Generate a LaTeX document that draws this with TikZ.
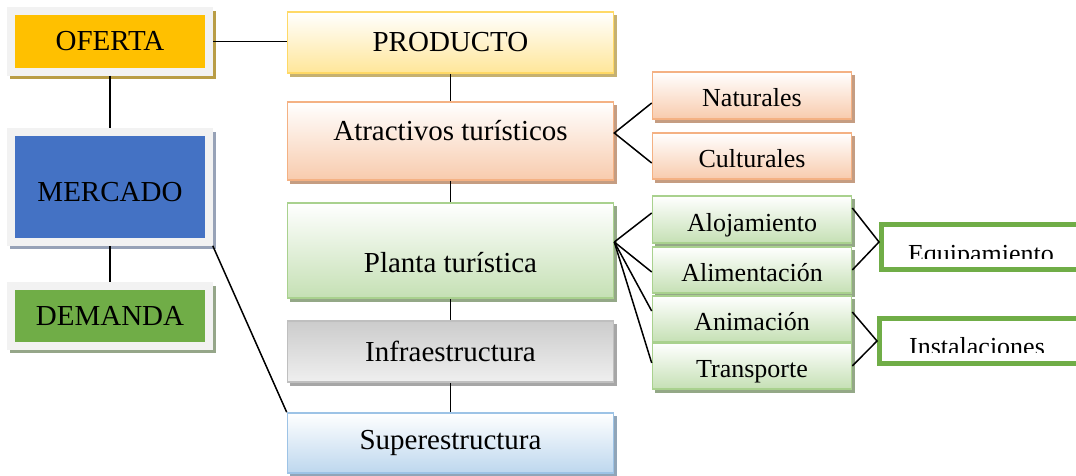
\documentclass[tikz,border=0pt]{standalone}
\usepackage{fontspec}
\setmainfont{Liberation Serif}
\usepackage{tikz}
\usetikzlibrary{shadows}
\definecolor{frameC}{HTML}{F2F2F2}
\definecolor{ofeC}{HTML}{FFC000}
\definecolor{merC}{HTML}{4472C4}
\definecolor{demC}{HTML}{70AD47}
\definecolor{prodB}{HTML}{FFD966}
\definecolor{prodF}{HTML}{FFE699}
\definecolor{atrB}{HTML}{F4B183}
\definecolor{atrF}{HTML}{F8CBAD}
\definecolor{plaB}{HTML}{A9D18E}
\definecolor{plaF}{HTML}{C5E0B4}
\definecolor{infB}{HTML}{BFBFBF}
\definecolor{supB}{HTML}{9DC3E6}
\definecolor{supF}{HTML}{BDD7EE}
\newcommand{\liftby}[2]{\raisebox{#1}[\height][\depth]{#2}}

\begin{document}
\begin{tikzpicture}[x=1pt,y=-1pt,line width=1.5pt,
  shad/.style={copy shadow={shadow xshift=3pt,shadow yshift=-3.5pt,fill=#1,draw=#1}},
  framebox/.style={draw=frameC,line width=7.5pt,minimum width=198pt,inner sep=0pt,
    font=\fontsize{29}{32}\selectfont},
  mainbox/.style={line width=1.6pt,minimum width=326pt,inner sep=0pt,
    font=\fontsize{29}{32}\selectfont},
  subbox/.style={line width=1.6pt,minimum width=199pt,inner sep=0pt,
    text height=23pt,text depth=0pt,font=\fontsize{26}{29}\selectfont},
  outbox/.style={draw=demC,fill=white,line width=5pt,inner sep=0pt,minimum height=45pt},
  prodsty/.style={draw=prodB,top color=white,bottom color=prodF,shad=prodB!55!gray},
  atrsty/.style={draw=atrB,top color=white,bottom color=atrF,shad=atrB!60!gray},
  plasty/.style={draw=plaB,top color=white,bottom color=plaF,shad=plaB!50!gray}]

  \useasboundingbox (0,0) rectangle (1076,476);

  % left column
  \node[framebox,fill=ofeC,minimum height=61pt,shad=ofeC!45!gray] at (110,41.5) (ofe) {OFERTA};
  \node[framebox,fill=merC,minimum height=110pt,shad=merC!35!gray!70!white] at (110,187) (mer) {\liftby{-5pt}{MERCADO}};
  \node[framebox,fill=demC,minimum height=60pt,shad=demC!35!gray!80!white] at (110,316) (dem) {DEMANDA};

  % main column
  \node[mainbox,prodsty,minimum height=61pt] at (450.5,42.5) (prod) {PRODUCTO};
  \node[mainbox,atrsty,minimum height=78pt] at (450.5,141) (atr) {\liftby{10pt}{Atractivos turísticos}};
  \node[mainbox,plasty,minimum height=95pt] at (450.5,250.5) (pla) {\liftby{-12pt}{Planta turística}};
  \node[mainbox,draw=infB,top color=infB!80!white,bottom color=infB!25!white,
    shad=gray!70,minimum height=61pt] at (450.5,351.5) (inf) {Infraestructura};
  \node[mainbox,draw=supB,top color=white,bottom color=supF,
    shad=supB!55!gray,minimum height=60pt] at (450.5,443) (sup) {Superestructura};

  % sub boxes
  \node[subbox,atrsty,minimum height=47pt] at (752,95.5) (nat) {Naturales};
  \node[subbox,atrsty,minimum height=46pt] at (752,156) (cul) {Culturales};
  \node[subbox,plasty,minimum height=47pt] at (752,219.5) (alo) {Alojamiento};
  \node[subbox,plasty,minimum height=46pt] at (752,270) (ali) {Alimentación};
  \node[subbox,plasty,minimum height=46pt] at (752,319) (ani) {Animación};
  \node[subbox,plasty,minimum height=46pt] at (752,366) (tra) {Transporte};

  % outer boxes, text cut off at the bottom
  \node[outbox,minimum width=203pt] at (983,247) (equ) {};
  \node[outbox,minimum width=205pt] at (982,341) (ins) {};
  \begin{scope}
    \clip (885,226) rectangle (1076,258);
    \node[anchor=base,font=\fontsize{26}{29}\selectfont] at (981,262) (equtxt) {Equipamiento};
  \end{scope}
  \begin{scope}
    \clip (885,320) rectangle (1076,352);
    \node[anchor=base,font=\fontsize{26}{29}\selectfont] at (977,355) (instxt) {Instalaciones};
  \end{scope}

  % connectors
  \draw (ofe.east) -- (ofe.east -| prod.west);
  \draw (ofe.south) -- (mer.north);
  \draw (mer.south) -- (dem.north);
  \draw (mer.south east) -- (sup.north west);

  \draw (prod.south) -- (atr.north);
  \draw (atr.south) -- (pla.north);
  \draw (pla.south) -- (inf.north);
  \draw (inf.south) -- (sup.north);

  \draw ([yshift=-7.5pt]nat.west) -- ([yshift=8pt]atr.east) -- ([yshift=-7pt]cul.west);
  \foreach \n/\s in {alo/6.5,ali/-2,ani/8,tra/3}
    \draw ([yshift=8.5pt]pla.east) -- ([yshift=\s pt]\n.west);

  \draw ([yshift=11.5pt]alo.east) -- ([yshift=5pt]equ.west) -- (ali.east);
  \draw ([yshift=7pt]ani.east) -- (ins.west) -- (tra.east);

\end{tikzpicture}
\end{document}
